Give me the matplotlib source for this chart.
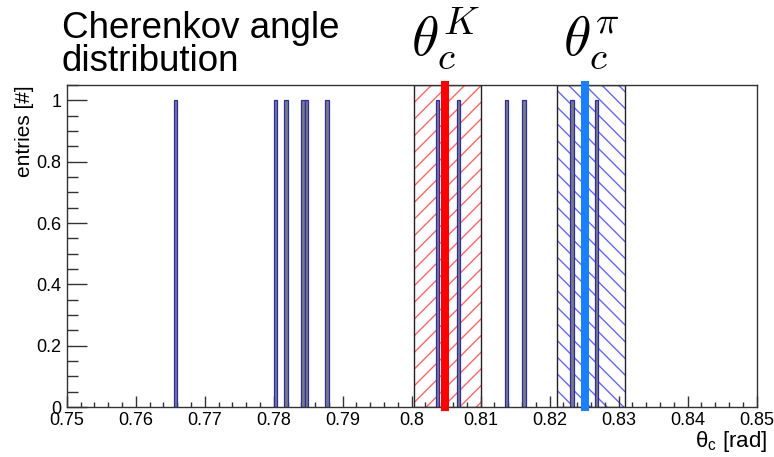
import numpy as np
import matplotlib
matplotlib.use("Agg")
import matplotlib.pyplot as plt
from matplotlib.ticker import MultipleLocator, FixedLocator

plt.rcParams['font.family'] = ['Liberation Sans', 'DejaVu Sans']
plt.rcParams['hatch.linewidth'] = 1.0

# ---- data ----
theta_values = [0.76575, 0.78025, 0.78175, 0.78425, 0.78475, 0.78775,
                0.80375, 0.80675, 0.81375, 0.81625, 0.82325, 0.82675]
hist_range = (0.75, 0.85)
n_bins = 200
kaon_theta = 0.8049
kaon_band = (0.8003, 0.8101)
pion_theta = 0.8251
pion_band = (0.8211, 0.8309)
x_ticks = [0.75, 0.76, 0.77, 0.78, 0.79, 0.80, 0.81, 0.82, 0.83, 0.84, 0.85]
x_ticklabels = ["0.75", "0.76", "0.77", "0.78", "0.79", "0.8", "0.81", "0.82", "0.83", "0.84", "0.85"]
y_ticks = [0, 0.2, 0.4, 0.6, 0.8, 1.0]
y_ticklabels = ["0", "0.2", "0.4", "0.6", "0.8", "1"]
y_max = 1.05

fig = plt.figure(figsize=(7.74, 4.57), dpi=100)
ax = fig.add_axes([0.0862, 0.1094, 0.9776 - 0.0862, 0.814 - 0.1094])

# bands
for band, col, hatch in [(kaon_band, (1, 0, 0, 0.6), '//'),
                         (pion_band, (0, 0, 1, 0.6), '\\\\')]:
    ax.axvspan(band[0], band[1], facecolor='none', edgecolor=col, hatch=hatch, lw=0, zorder=1)
    ax.axvspan(band[0], band[1], facecolor='none', edgecolor='#222222', lw=1.0, zorder=1.5)

# histogram
counts, edges = np.histogram(theta_values, bins=n_bins, range=hist_range)
nz = counts > 0
ax.bar(edges[:-1][nz], counts[nz], width=np.diff(edges)[nz], align='edge',
       facecolor='#7a7a82', edgecolor='#2c2ca8', lw=0.9, zorder=2)

# theta lines
ax.plot([kaon_theta, kaon_theta], [0, y_max], color='#ff0000', lw=5.8,
        solid_capstyle='projecting', clip_on=False, zorder=3)
ax.plot([pion_theta, pion_theta], [0, y_max], color='#1a80ff', lw=5.8,
        solid_capstyle='projecting', clip_on=False, zorder=3)

ax.set_xlim(*hist_range)
ax.set_ylim(0, y_max)
ax.xaxis.set_major_locator(FixedLocator(x_ticks))
ax.set_xticklabels(x_ticklabels)
ax.xaxis.set_minor_locator(MultipleLocator(0.002))
ax.yaxis.set_major_locator(FixedLocator(y_ticks))
ax.set_yticklabels(y_ticklabels)
ax.yaxis.set_minor_locator(MultipleLocator(0.05))

ax.tick_params(axis='x', which='major', direction='in', length=7.7, width=1, labelsize=13, pad=3.5, color='#333333')
ax.tick_params(axis='x', which='minor', direction='in', length=3.4, width=1, color='#333333')
ax.tick_params(axis='y', which='major', direction='in', length=14.4, width=1, labelsize=13, pad=3.6, color='#333333')
ax.tick_params(axis='y', which='minor', direction='in', length=8, width=1, color='#333333')
for s in ax.spines.values():
    s.set_color('#333333')
    s.set_linewidth(1.0)

# labels
fig.text(62 / 774, 1 - 11 / 457, "Cherenkov angle\ndistribution", fontsize=26.5,
         ha='left', va='top', linespacing=0.92)
fig.text(25 / 774, 1 - 85 / 457, "entries [#]", fontsize=15, rotation=90,
         ha='center', va='top')
fig.text(767 / 774, 1 - 442 / 457, "θ$_{\\mathregular{c}}$ [rad]", fontsize=16,
         ha='right', va='center')

for th, lab, dx in [(kaon_theta, r'$\theta_c^K$', 0), (pion_theta, r'$\theta_c^\pi$', 7)]:
    x_fig = fig.transFigure.inverted().transform(ax.transData.transform((th, 0)))[0] + dx / 774
    fig.text(x_fig, 1 - 55 / 457, lab, fontsize=40, math_fontfamily='cm',
             ha='center', va='baseline')

fig.savefig('out.png', dpi=100)
